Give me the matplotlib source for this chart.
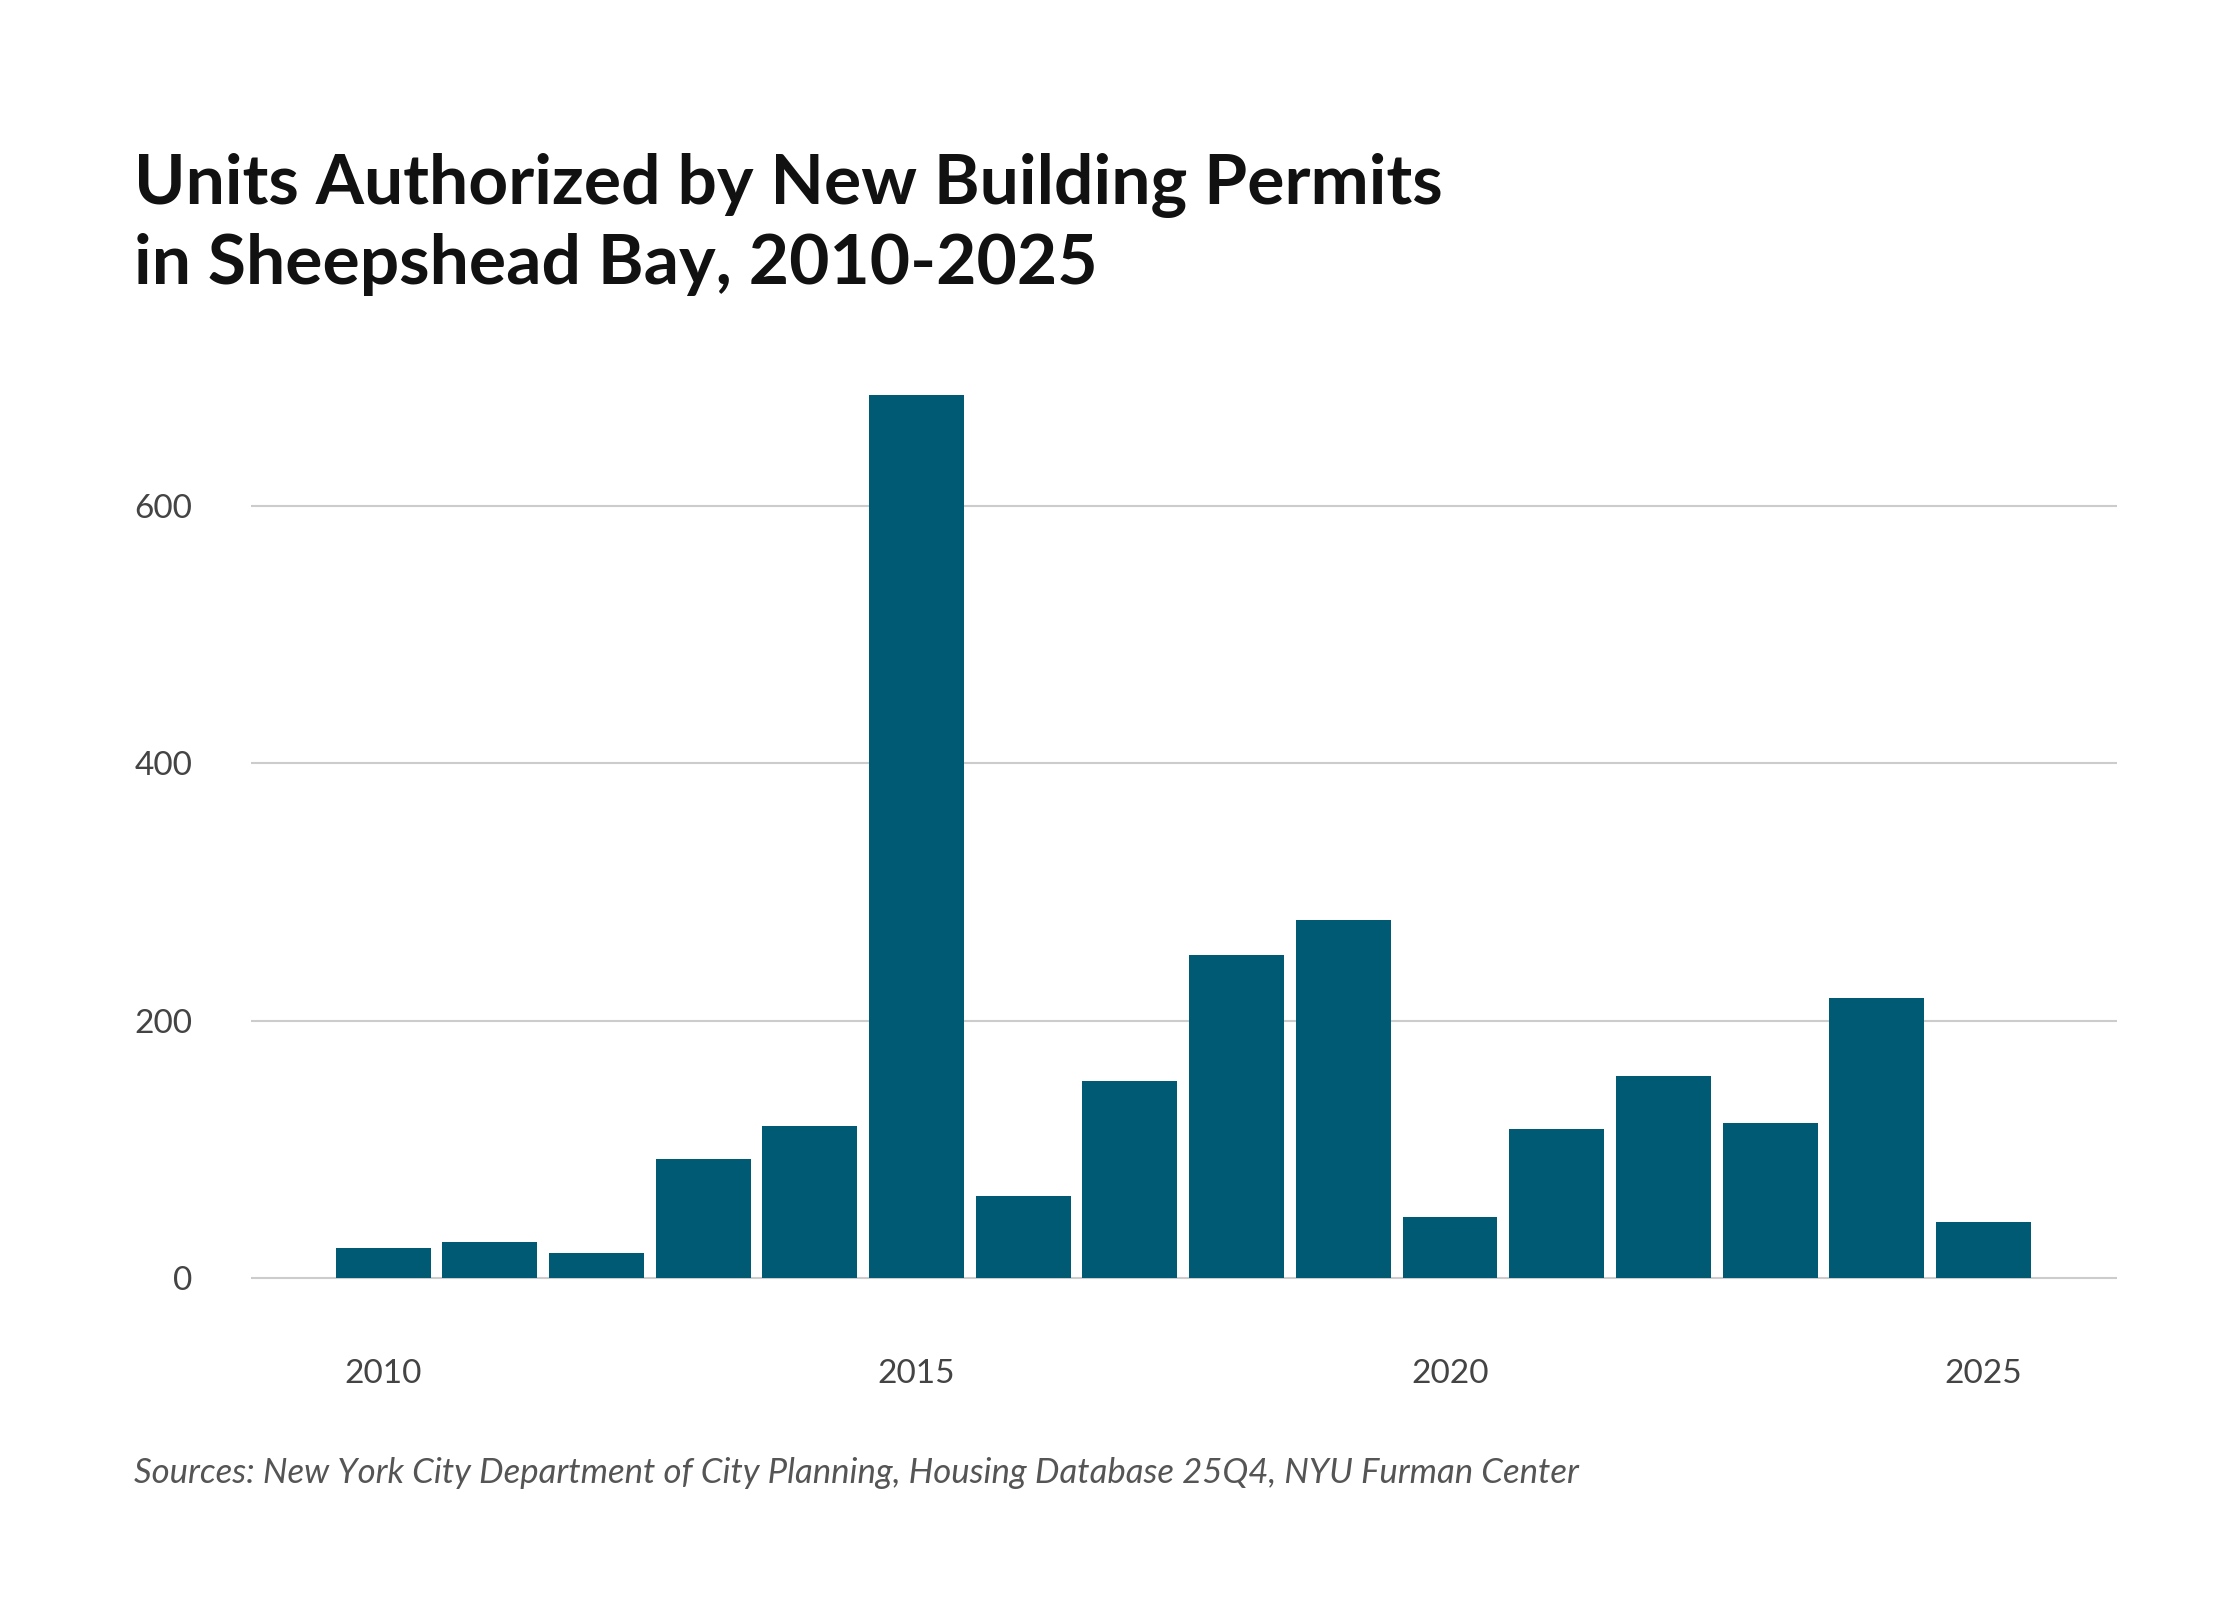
import matplotlib.pyplot as plt

years = list(range(2010, 2026))
units = [24, 28, 20, 93, 118, 686, 64, 153, 251, 278, 48, 116, 157, 121, 218, 44]
xticks = [2010, 2015, 2020, 2025]
yticks = [0, 200, 400, 600]

plt.rcParams['font.family'] = ['Lato', 'DejaVu Sans']

fig = plt.figure(figsize=(22.4, 16), dpi=100)
ax = fig.add_axes([0.112, 0.1575, 0.833, 0.607])
ax.bar(years, units, width=0.89, color='#005a74', zorder=3)
ax.set_xlim(2008.76, 2026.25)
ax.set_ylim(-54, 700)
ax.set_yticks(yticks)
ax.set_xticks(xticks)
ax.grid(axis='y', color='#cccccc', linewidth=1.5, zorder=0)
for s in ax.spines.values():
    s.set_visible(False)
ax.tick_params(length=0, labelsize=24, colors='#444444')
ax.tick_params(axis='x', pad=8)
ax.tick_params(axis='y', pad=42)

fig.text(0.06, 0.815, "Units Authorized by New Building Permits\nin Sheepshead Bay, 2010-2025",
         fontsize=50, fontweight='bold', color='#111111', linespacing=1.3, va='bottom')
fig.text(0.06, 0.073, "Sources: New York City Department of City Planning, Housing Database 25Q4, NYU Furman Center",
         fontsize=25, style='italic', color='#555555')

fig.savefig('out.png', dpi=100)
